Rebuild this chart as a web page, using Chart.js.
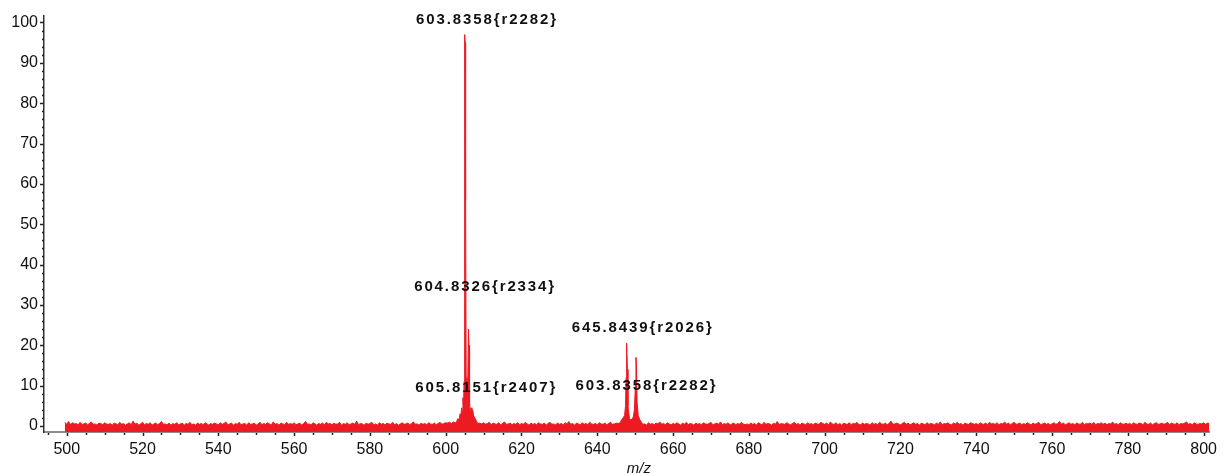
<!DOCTYPE html>
<html>
<head>
<meta charset="utf-8">
<script src="https://cdn.jsdelivr.net/npm/chart.js@4.4.1/dist/chart.umd.min.js"></script>
<style>
    html, body { margin: 0; padding: 0; background: #fff; }
    #wrap { width: 1225px; height: 474px; position: relative; }
</style>
</head>
<body>
<div id="wrap"><canvas id="espectro"></canvas></div>
<script>
// baseline noise, one value every 0.5 m/z starting at 499.5
const noiseStart = 499.5;
const noiseStep = 0.5;
const baselineNoise = [
    0.9,0.4,1.1,0.3,0.8,0.5,0.6,0.2,0.9,0.4,0.5,0.7,0.3,0.6,1.0,0.4,0.5,0.2,0.7,0.6,
    0.3,0.8,0.5,0.4,0.6,0.2,0.7,0.5,0.3,0.9,0.4,0.6,0.2,0.5,0.8,0.3,1.2,0.4,0.7,0.2,
    0.5,0.9,0.3,0.6,0.4,0.8,0.2,0.5,0.7,0.3,0.6,1.1,0.4,0.5,0.3,0.7,0.2,0.6,0.4,0.8,
    0.3,0.5,0.7,0.2,0.6,0.4,0.9,0.3,0.5,0.2,0.7,0.4,0.6,0.3,0.8,0.5,0.2,0.6,0.4,0.7,
    0.5,0.3,0.8,0.4,0.6,1.0,0.3,0.5,0.7,0.2,0.6,0.4,0.9,0.3,0.5,0.6,0.2,0.8,0.4,0.5,
    0.7,0.2,0.5,0.9,0.3,0.6,0.4,0.8,0.5,0.3,1.0,0.4,0.6,0.2,0.7,0.5,0.3,0.9,0.4,0.6,
    0.4,0.8,0.3,0.5,0.7,0.2,0.6,1.1,0.4,0.5,0.3,0.8,0.5,0.2,0.6,0.4,0.7,0.3,0.9,0.5,
    0.6,0.3,0.7,0.4,0.5,0.9,0.2,0.6,0.4,0.8,0.3,0.5,0.7,0.4,1.2,0.3,0.6,0.5,0.2,0.7,
    0.4,0.6,0.9,0.3,0.5,0.2,0.8,0.4,0.6,0.3,0.7,0.5,0.4,0.9,0.3,0.6,0.2,0.5,0.8,0.4,
    0.5,0.7,0.3,0.6,1.0,0.4,0.5,0.2,0.7,0.4,0.6,0.3,0.8,0.5,0.4,0.7,0.3,0.6,0.9,0.4,
    0.6,0.8,0.7,0.9,0.6,1.0,0.8,0.7,0.9,0.6,0.8,0.7,0.9,0.6,0.8,0.7,0.5,0.9,0.6,0.7,
    0.5,0.8,0.4,0.6,0.9,0.3,0.7,0.5,0.4,0.8,0.3,0.6,1.0,0.4,0.5,0.7,0.3,0.6,0.4,0.8,
    0.3,0.6,0.4,0.9,0.5,0.2,0.7,0.4,0.6,0.3,0.8,0.5,0.4,0.7,0.2,0.6,0.9,0.4,0.5,0.3,
    0.7,0.4,0.6,0.3,0.8,0.5,1.1,0.4,0.6,0.2,0.7,0.5,0.3,0.8,0.4,0.6,0.3,0.9,0.5,0.4,
    0.6,0.3,0.8,0.5,0.4,0.7,0.3,0.6,0.9,0.4,0.5,0.7,0.6,0.8,0.7,0.9,0.8,1.0,0.8,0.9,
    0.4,0.7,0.3,0.6,0.9,0.4,0.5,0.2,0.8,0.4,0.6,0.3,0.7,0.5,1.0,0.4,0.6,0.3,0.8,0.5,
    0.3,0.6,0.4,0.8,0.5,0.2,0.7,0.4,0.9,0.3,0.6,0.5,0.2,0.7,0.4,0.6,0.3,0.8,0.5,0.4,
    0.6,0.9,0.3,0.5,0.7,0.4,1.0,0.3,0.6,0.4,0.8,0.2,0.5,0.7,0.3,0.6,0.4,0.9,0.5,0.3,
    0.5,0.3,0.7,0.4,0.6,0.2,0.8,0.5,0.3,0.9,0.4,0.6,0.5,0.2,0.7,0.4,1.1,0.3,0.6,0.5,
    0.4,0.8,0.5,0.3,0.6,0.9,0.4,0.6,0.2,0.7,0.5,0.3,0.8,0.4,0.6,0.3,0.7,0.5,0.4,0.9,
    0.6,0.4,0.7,0.3,1.0,0.5,0.4,0.8,0.3,0.6,0.2,0.7,0.5,0.4,0.8,0.3,0.6,0.5,0.9,0.4,
    0.3,0.7,0.4,0.6,0.5,0.2,0.8,0.4,0.6,0.3,0.9,0.5,0.4,0.7,0.3,0.6,1.2,0.4,0.5,0.7,
    0.5,0.3,0.6,0.9,0.4,0.7,0.3,0.5,0.8,0.4,0.6,0.2,0.7,0.5,0.3,0.8,0.4,0.6,0.5,0.3,
    0.7,0.4,1.0,0.3,0.6,0.5,0.8,0.4,0.3,0.7,0.5,0.9,0.4,0.6,0.2,0.7,0.5,0.4,0.8,0.6,
    0.4,0.6,0.3,0.8,0.5,0.4,0.7,0.3,0.9,0.5,0.6,0.4,0.8,0.3,0.6,0.5,1.0,0.4,0.7,0.3,
    0.6,0.9,0.4,0.5,0.7,0.3,0.6,0.4,0.8,0.5,0.3,0.7,0.4,0.6,0.9,0.3,0.5,0.7,0.4,0.6,
    0.3,0.5,0.8,0.4,0.6,1.1,0.4,0.7,0.3,0.5,0.8,0.4,0.6,0.3,0.7,0.5,0.4,0.9,0.3,0.6,
    0.5,0.7,0.4,0.9,0.3,0.6,0.5,0.8,0.4,0.7,0.3,0.6,0.5,1.0,0.4,0.6,0.3,0.8,0.5,0.4,
    0.7,0.4,0.6,0.3,0.8,0.5,0.4,0.7,0.6,0.3,0.9,0.5,0.4,0.7,0.3,0.6,0.8,0.4,0.5,0.7,
    0.4,0.6,0.9,0.3,0.7,0.5,0.4,0.8,0.3,0.6,0.5,0.7,1.0,0.4,0.6,0.3,0.8,0.5,0.4,0.6,
    0.5,0.8,0.4,0.7,0.6
];

// peak cluster around the base peak (m/z, relative abundance)
const mainClusterMz = [602.8, 603.2, 603.5, 603.8, 604.0, 604.2, 604.4, 604.55, 604.7, 604.85, 604.95, 605.05, 605.15, 605.25, 605.4, 605.6, 605.8, 606.0, 606.15, 606.3, 606.5, 606.7, 606.9, 607.1, 607.4, 607.8, 608.2];
const mainClusterInt = [0.9, 1.8, 1.4, 3, 2.2, 4.5, 3.5, 7, 5, 11, 56, 97, 95, 56, 12, 3, 9, 24, 20, 6, 3, 4.5, 3.5, 4, 2.5, 1.8, 1.0];

// peak cluster around 646
const sideClusterMz = [646.2, 646.8, 647.2, 647.45, 647.6, 647.7, 647.8, 647.95, 648.1, 648.5, 648.9, 649.5, 649.8, 650.05, 650.2, 650.35, 650.5, 650.8, 651.2, 651.6];
const sideClusterInt = [1.2, 2.0, 2.6, 5, 12, 17, 20.5, 14, 5, 1.8, 1.4, 2.2, 4, 10, 17, 15, 6, 2.6, 1.6, 1.0];

// peak annotations
const peakLabels = ['603.8358{r2282}', '604.8326{r2334}', '605.8151{r2407}', '645.8439{r2026}', '603.8358{r2282}'];
const labelMz = [610.9, 610.4, 610.7, 652.0, 653.0];
const labelInt = [100.7, 34.4, 9.4, 24.2, 9.9];

const corVermelho = '#ee1a22';
const fonte = "'Liberation Sans', Arial, sans-serif";

function montarPontos() {
    const janelas = [
        [mainClusterMz[0], mainClusterMz[mainClusterMz.length - 1]],
        [sideClusterMz[0], sideClusterMz[sideClusterMz.length - 1]]
    ];
    const pontos = [];
    baselineNoise.forEach((v, i) => {
        const mz = noiseStart + i * noiseStep;
        if (janelas.some(([a, b]) => mz >= a && mz <= b)) return;
        pontos.push({ x: mz, y: v });
    });
    mainClusterMz.forEach((mz, i) => pontos.push({ x: mz, y: mainClusterInt[i] }));
    sideClusterMz.forEach((mz, i) => pontos.push({ x: mz, y: sideClusterInt[i] }));
    pontos.sort((a, b) => a.x - b.x);
    return pontos;
}

// tick marks (major + minor) drawn by hand, Chart.js has no minor ticks
const pluginMarcas = {
    id: 'marcas',
    afterDraw(chart) {
        const ctx = chart.ctx;
        const { x, y } = chart.scales;
        ctx.save();
        ctx.strokeStyle = '#222';
        ctx.lineWidth = 1.5;
        y.ticks.forEach(t => {
            const py = Math.round(y.getPixelForValue(t.value)) + 0.5;
            const len = t.value % 10 === 0 ? 4 : 2;
            ctx.beginPath();
            ctx.moveTo(y.right - len, py);
            ctx.lineTo(y.right, py);
            ctx.stroke();
        });
        x.ticks.forEach(t => {
            const px = Math.round(x.getPixelForValue(t.value)) + 0.5;
            const len = t.value % 20 === 0 ? 3 : 2;
            ctx.beginPath();
            ctx.moveTo(px, x.top + 1);
            ctx.lineTo(px, x.top + 1 + len);
            ctx.stroke();
        });
        ctx.restore();
    }
};

const pluginRotulos = {
    id: 'rotulos',
    afterDatasetsDraw(chart) {
        const ctx = chart.ctx;
        const { x, y } = chart.scales;
        ctx.save();
        ctx.font = `bold 15px ${fonte}`;
        ctx.fillStyle = '#111';
        ctx.textAlign = 'center';
        ctx.textBaseline = 'middle';
        if ('letterSpacing' in ctx) ctx.letterSpacing = '1.9px';
        peakLabels.forEach((txt, i) => {
            ctx.fillText(txt, x.getPixelForValue(labelMz[i]), y.getPixelForValue(labelInt[i]));
        });
        if ('letterSpacing' in ctx) ctx.letterSpacing = '0px';
        ctx.font = `italic 15px ${fonte}`;
        ctx.textBaseline = 'top';
        const area = chart.chartArea;
        ctx.fillText('m/z', (area.left + area.right) / 2 + 12, 461);
        ctx.restore();
    }
};

const ctx = document.getElementById('espectro').getContext('2d');
new Chart(ctx, {
    type: 'line',
    data: {
        datasets: [{
            data: montarPontos(),
            borderColor: corVermelho,
            backgroundColor: corVermelho,
            borderWidth: 1,
            pointRadius: 0,
            tension: 0,
            fill: 'start'
        }]
    },
    options: {
        responsive: true,
        maintainAspectRatio: false,
        animation: false,
        layout: { padding: { left: 0, top: 15, right: 5, bottom: 0 } },
        plugins: { legend: { display: false }, tooltip: { enabled: false } },
        scales: {
            x: {
                type: 'linear',
                min: 494,
                max: 801.6,
                afterFit: (scale) => { scale.height = 42; },
                grid: { display: false, drawTicks: false },
                border: { display: true, color: '#8c8c8c', width: 2 },
                ticks: {
                    stepSize: 5,
                    autoSkip: false,
                    maxRotation: 0,
                    includeBounds: false,
                    padding: 8,
                    color: '#111',
                    font: { family: fonte, size: 16 },
                    callback: (v) => (v % 20 === 0 ? String(v) : '')
                }
            },
            y: {
                min: -1.5,
                max: 101.7,
                afterFit: (scale) => { scale.width = 44; },
                grid: { display: false, drawTicks: false },
                border: { display: true, color: '#333', width: 1.5 },
                ticks: {
                    stepSize: 2,
                    autoSkip: false,
                    includeBounds: false,
                    padding: 6,
                    color: '#111',
                    font: { family: fonte, size: 16 },
                    callback: (v) => (v % 10 === 0 ? String(v) : '')
                }
            }
        }
    },
    plugins: [pluginMarcas, pluginRotulos]
});
</script>
</body>
</html>
